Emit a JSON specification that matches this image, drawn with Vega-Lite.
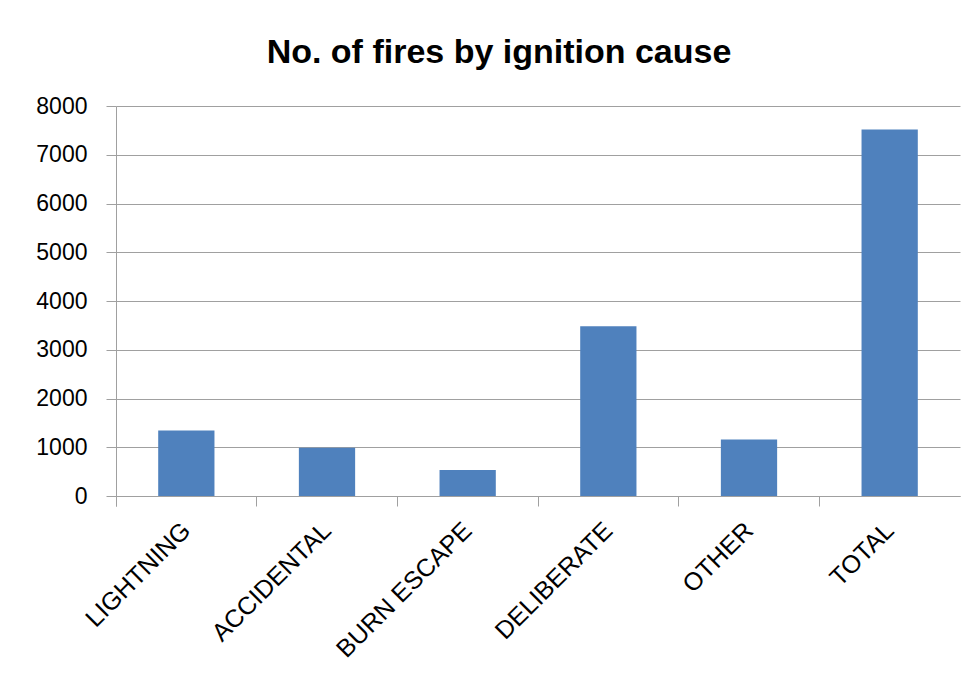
{
  "$schema": "https://vega.github.io/schema/vega-lite/v6.json",
  "autosize": "none",
  "width": 844,
  "height": 390,
  "padding": {"left": 116, "top": 106, "right": 15, "bottom": 186},
  "background": "white",
  "title": {
    "text": "No. of fires by ignition cause",
    "font": "Liberation Sans",
    "fontSize": 34,
    "fontWeight": "bold",
    "color": "black",
    "anchor": "middle",
    "frame": "group",
    "dx": -39,
    "baseline": "alphabetic",
    "offset": -2
  },
  "data": {
    "values": [
      {"cause": "LIGHTNING", "fires": 1345},
      {"cause": "ACCIDENTAL", "fires": 990},
      {"cause": "BURN ESCAPE", "fires": 535},
      {"cause": "DELIBERATE", "fires": 3480},
      {"cause": "OTHER", "fires": 1160},
      {"cause": "TOTAL", "fires": 7520}
    ]
  },
  "mark": {"type": "bar", "color": "#4f81bd", "width": {"band": 0.4}},
  "encoding": {
    "x": {
      "field": "cause",
      "type": "nominal",
      "sort": null,
      "scale": {"paddingInner": 0, "paddingOuter": 0},
      "axis": {
        "title": null,
        "bandPosition": 0,
        "tickExtra": true,
        "labelAngle": -45,
        "labelAlign": "right",
        "labelBaseline": "middle",
        "labelPadding": 20,
        "labelLimit": 400,
        "labelFont": "Liberation Sans",
        "labelFontSize": 25,
        "labelColor": "black",
        "tickSize": 10,
        "tickColor": "#a0a0a0",
        "domainColor": "#a0a0a0",
        "grid": false
      }
    },
    "y": {
      "field": "fires",
      "type": "quantitative",
      "scale": {"domain": [0, 8000], "nice": false},
      "axis": {
        "title": null,
        "values": [0, 1000, 2000, 3000, 4000, 5000, 6000, 7000, 8000],
        "format": "d",
        "labelFont": "Liberation Sans",
        "labelFontSize": 23,
        "labelColor": "black",
        "labelPadding": 19,
        "tickSize": 10,
        "tickColor": "#a0a0a0",
        "domainColor": "#a0a0a0",
        "gridColor": "#a0a0a0",
        "grid": true
      }
    }
  },
  "config": {"view": {"stroke": null}}
}
